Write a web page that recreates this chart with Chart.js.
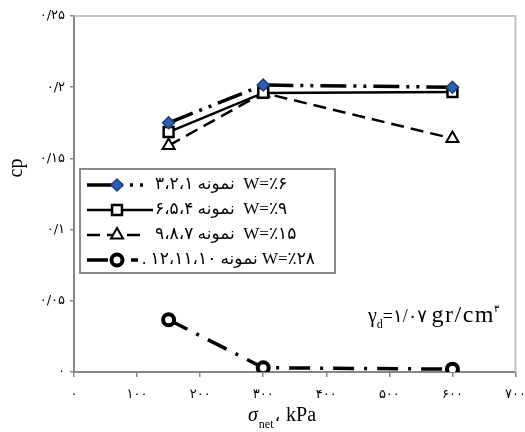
<!DOCTYPE html>
<html>
<head>
<meta charset="utf-8">
<script src="https://cdn.jsdelivr.net/npm/chart.js@4.4.0/dist/chart.umd.min.js"></script>
<style>
  html, body { margin: 0; padding: 0; background: #fff; }
  canvas { display: block; }
</style>
</head>
<body>
<canvas id="cpChart" width="525" height="432"></canvas>
<script>
// داده‌ها
const netStress = [150, 300, 600];
const cpW6 = [0.175, 0.2015, 0.200];
const cpW9 = [0.1685, 0.196, 0.1966];
const cpW15 = [0.159, 0.196, 0.164];
const cpW28 = [0.0367, 0.003, 0.002];
const seriesLabels = [
    'W=٪۶  نمونه ۳،۲،۱',
    'W=٪۹  نمونه ۶،۵،۴',
    'W=٪۱۵  نمونه ۹،۸،۷',
    'W=٪۲۸ نمونه ۱۲،۱۱،۱۰ .'
];
const xTickLabels = ['۰', '۱۰۰', '۲۰۰', '۳۰۰', '۴۰۰', '۵۰۰', '۶۰۰', '۷۰۰'];
const yTickLabels = ['۰', '۰/۰۵', '۰/۱', '۰/۱۵', '۰/۲', '۰/۲۵'];

const FONT = "'Liberation Serif', 'DejaVu Sans', serif";
const FA_FONT = "'DejaVu Sans', 'Liberation Serif', sans-serif";

function toPoints(values) {
    return netStress.map((x, i) => ({ x: x, y: values[i] }));
}

function drawMarker(ctx, ds, x, y) {
    ctx.save();
    ctx.setLineDash([]);
    ctx.fillStyle = ds.pointBackgroundColor;
    ctx.strokeStyle = ds.pointBorderColor;
    ctx.lineWidth = ds.pointBorderWidth;
    Chart.helpers.drawPoint(ctx, {
        pointStyle: ds.pointStyle,
        rotation: 0,
        radius: ds.pointRadius,
        borderWidth: ds.pointBorderWidth
    }, x, y);
    ctx.restore();
}

// قاب، عنوان محورها، راهنما و یادداشت
const extrasPlugin = {
    id: 'extras',
    afterDraw(chart) {
        const ctx = chart.ctx;
        const area = chart.chartArea;
        ctx.save();

        // قاب بالا و راست
        ctx.strokeStyle = '#c4c4c4';
        ctx.lineWidth = 2;
        ctx.beginPath();
        ctx.moveTo(area.left, area.top);
        ctx.lineTo(area.right, area.top);
        ctx.lineTo(area.right, area.bottom);
        ctx.stroke();

        // عنوان محور y
        ctx.fillStyle = '#000';
        ctx.save();
        ctx.translate(22, 168);
        ctx.rotate(-Math.PI / 2);
        ctx.font = '20px ' + FONT;
        ctx.textAlign = 'center';
        ctx.textBaseline = 'alphabetic';
        ctx.fillText('cp', 0, 0);
        ctx.restore();

        // عنوان محور x
        ctx.textAlign = 'left';
        ctx.textBaseline = 'alphabetic';
        let x = 248;
        ctx.font = 'italic 20px ' + FONT;
        ctx.fillText('σ', x, 421);
        x += ctx.measureText('σ').width + 1;
        ctx.font = '12px ' + FONT;
        ctx.fillText('net', x, 428);
        x += ctx.measureText('net').width + 1;
        ctx.font = '18px ' + FA_FONT;
        ctx.fillText('،', x, 421);
        x += ctx.measureText('، ').width;
        ctx.font = '20px ' + FONT;
        ctx.fillText('kPa', x, 421);

        // یادداشت وزن مخصوص
        x = 368;
        ctx.font = '20px ' + FONT;
        ctx.fillText('γ', x, 322);
        x += ctx.measureText('γ').width;
        ctx.font = '12px ' + FONT;
        ctx.fillText('d', x, 328);
        x += ctx.measureText('d').width;
        ctx.font = '18px ' + FONT;
        ctx.fillText('=۱/۰۷ ', x, 322);
        x += ctx.measureText('=۱/۰۷ ').width;
        ctx.save();
        ctx.font = '24px ' + FONT;
        ctx.letterSpacing = '1.5px';
        ctx.fillText('gr/cm', x, 322);
        x += ctx.measureText('gr/cm').width - 1;
        ctx.restore();
        ctx.font = '10px ' + FA_FONT;
        ctx.fillText('۳', x, 312);

        // راهنما
        ctx.fillStyle = '#fff';
        ctx.fillRect(80, 169, 255, 104);
        ctx.strokeStyle = '#8a8a8a';
        ctx.lineWidth = 2;
        ctx.strokeRect(80, 169, 255, 104);

        const lineEnds = [143, 153, 143, 138];
        const textStarts = [155, 155, 155, 142];
        chart.data.datasets.forEach((ds, i) => {
            const y = 185 + 25 * i;
            ctx.save();
            ctx.strokeStyle = ds.borderColor;
            ctx.lineWidth = ds.borderWidth;
            ctx.setLineDash(ds.borderDash || []);
            ctx.beginPath();
            ctx.moveTo(87, y);
            ctx.lineTo(lineEnds[i], y);
            ctx.stroke();
            ctx.restore();
            drawMarker(ctx, ds, 117, y);

            ctx.save();
            ctx.fillStyle = '#000';
            ctx.font = '17px ' + FONT;
            ctx.direction = 'rtl';
            ctx.textAlign = 'left';
            ctx.textBaseline = 'middle';
            ctx.fillText(seriesLabels[i], textStarts[i], y);
            ctx.restore();
        });

        ctx.restore();
    }
};

const ctx = document.getElementById('cpChart').getContext('2d');
new Chart(ctx, {
    type: 'line',
    data: {
        datasets: [
            {
                label: seriesLabels[0],
                data: toPoints(cpW6),
                borderColor: '#000',
                borderWidth: 3.5,
                borderDash: [26, 7, 3, 7, 3, 7],
                pointStyle: 'rectRot',
                pointRadius: 6,
                pointBackgroundColor: '#2b5fb4',
                pointBorderColor: '#1b3d7a',
                pointBorderWidth: 1.5
            },
            {
                label: seriesLabels[1],
                data: toPoints(cpW9),
                borderColor: '#000',
                borderWidth: 2.5,
                borderDash: [],
                pointStyle: 'rect',
                pointRadius: 7,
                pointBackgroundColor: '#fff',
                pointBorderColor: '#000',
                pointBorderWidth: 2.5
            },
            {
                label: seriesLabels[2],
                data: toPoints(cpW15),
                borderColor: '#000',
                borderWidth: 2.5,
                borderDash: [13, 7],
                pointStyle: 'triangle',
                pointRadius: 7,
                pointBackgroundColor: '#fff',
                pointBorderColor: '#000',
                pointBorderWidth: 2
            },
            {
                label: seriesLabels[3],
                data: toPoints(cpW28),
                borderColor: '#000',
                borderWidth: 3.5,
                borderDash: [21, 10, 3, 10],
                pointStyle: 'circle',
                pointRadius: 5.5,
                pointBackgroundColor: '#fff',
                pointBorderColor: '#000',
                pointBorderWidth: 4
            }
        ]
    },
    options: {
        responsive: false,
        animation: false,
        layout: { padding: { top: 16, right: 6, left: 0, bottom: 0 } },
        plugins: {
            legend: { display: false },
            tooltip: { enabled: false }
        },
        elements: { line: { tension: 0, fill: false } },
        scales: {
            x: {
                type: 'linear',
                min: 0,
                max: 700,
                border: { color: '#868686', width: 2 },
                grid: { drawOnChartArea: false, drawTicks: true, tickLength: 5, color: '#868686', lineWidth: 1.5 },
                ticks: {
                    stepSize: 100,
                    autoSkip: false,
                    maxRotation: 0,
                    padding: 10,
                    color: '#000',
                    font: { family: FA_FONT, size: 13 },
                    callback: (v) => xTickLabels[Math.round(v / 100)]
                },
                afterFit(scale) {
                    scale.height = 60;
                    scale.paddingLeft = 0;
                    scale.paddingRight = 0;
                }
            },
            y: {
                min: 0,
                max: 0.25,
                border: { color: '#868686', width: 2 },
                grid: { drawOnChartArea: false, drawTicks: true, tickLength: 4, color: '#868686', lineWidth: 1.5 },
                ticks: {
                    stepSize: 0.05,
                    autoSkip: false,
                    padding: 5,
                    color: '#000',
                    font: { family: FA_FONT, size: 13 },
                    callback: (v) => yTickLabels[Math.round(v / 0.05)]
                },
                afterFit(scale) {
                    scale.width = 74;
                    scale.paddingTop = 0;
                    scale.paddingBottom = 0;
                }
            }
        }
    },
    plugins: [extrasPlugin]
});
</script>
</body>
</html>
